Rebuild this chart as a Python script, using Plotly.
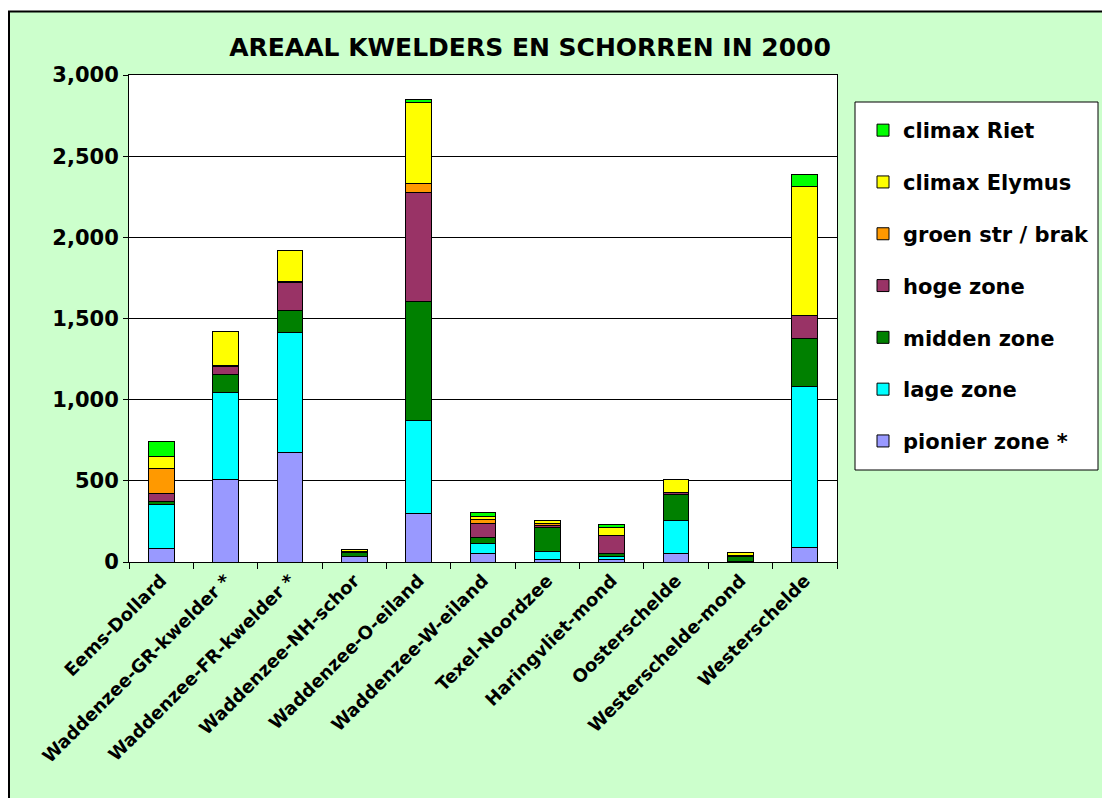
import plotly.graph_objects as go

categories = ["Eems-Dollard", "Waddenzee-GR-kwelder *", "Waddenzee-FR-kwelder *",
              "Waddenzee-NH-schor", "Waddenzee-O-eiland", "Waddenzee-W-eiland",
              "Texel-Noordzee", "Haringvliet-mond", "Oosterschelde",
              "Westerschelde-mond", "Westerschelde"]

pionier = [84, 511, 673, 31, 296, 53, 18, 14, 51, 3, 88]
lage    = [271, 532, 740, 5, 574, 62, 48, 21, 204, 2, 996]
midden  = [17, 115, 137, 20, 732, 33, 148, 18, 160, 27, 294]
hoge    = [47, 45, 169, 10, 672, 90, 12, 111, 16, 8, 142]
groen   = [154, 10, 10, 0, 57, 21, 12, 0, 0, 0, 0]
elymus  = [76, 210, 191, 10, 501, 24, 19, 50, 78, 20, 792]
riet    = [92, 0, 0, 0, 16, 23, 0, 20, 0, 0, 76]

series = [
    ("pionier zone *", pionier, "#9999FF"),
    ("lage zone", lage, "#00FFFF"),
    ("midden zone", midden, "#008000"),
    ("hoge zone", hoge, "#993366"),
    ("groen str / brak", groen, "#FF9900"),
    ("climax Elymus", elymus, "#FFFF00"),
    ("climax Riet", riet, "#00FF00"),
]

FONT = "DejaVu Sans, Arial, sans-serif"

fig = go.Figure()
n = len(series)
for i, (name, vals, col) in enumerate(series):
    fig.add_trace(go.Bar(
        x=categories, y=vals, name=name, legendgroup=str(i),
        legendrank=n - i,
        marker=dict(color=col, line=dict(color="black", width=1)),
    ))

# figure coordinates (the page adds an 8px body margin)
W, H = 1110, 798
L, T = 121, 67
PR, PB = 829, 554          # plot right / bottom in figure px
R, B = W - PR, H - PB
pw, ph = PR - L, PB - T

def px(fx):
    return (fx - L) / pw

def py(fy):
    return (PB - fy) / ph

fig.update_layout(
    width=W, height=H,
    barmode="stack", bargap=0.6,
    paper_bgcolor="#CCFFCC", plot_bgcolor="white",
    margin=dict(l=L, r=R, t=T, b=B),
    font=dict(family=FONT, color="black"),
    title=dict(text="<b>AREAAL KWELDERS EN SCHORREN IN 2000</b>",
               x=522 / W, xanchor="center", y=1 - 39 / H, yanchor="middle",
               font=dict(size=25, family=FONT, color="black")),
    legend=dict(
        x=px(855), xanchor="left",
        y=py(102), yanchor="top",
        traceorder="grouped", tracegroupgap=21.5,
        bgcolor="rgba(0,0,0,0)", borderwidth=0,
        font=dict(size=21, family=FONT, color="black", weight="bold"),
    ),
    showlegend=True,
)

fig.update_xaxes(
    tickangle=-45, tickfont=dict(size=18, family=FONT, weight="bold"),
    showline=True, linecolor="black", linewidth=1, mirror=True,
    ticks="outside", tickson="boundaries", ticklen=6, tickcolor="black",
    showgrid=False,
)
fig.update_yaxes(
    range=[0, 3000], dtick=500, tickformat=",",
    tickfont=dict(size=21, family=FONT, weight="bold"),
    showline=True, linecolor="black", linewidth=1, mirror=True,
    ticks="outside", ticklen=5, tickcolor="black",
    showgrid=True, gridcolor="black", gridwidth=1, zeroline=False,
)

# legend box
fig.add_shape(type="rect", xref="paper", yref="paper",
              x0=px(847), x1=px(1090), y0=py(462), y1=py(94),
              line=dict(color="black", width=1), fillcolor="white", layer="below")
# white strip above the chart area and chart border (top + left)
fig.add_shape(type="rect", xref="paper", yref="paper",
              x0=px(0), x1=px(W), y0=py(3), y1=py(0),
              line=dict(width=0), fillcolor="white", layer="below")
fig.add_shape(type="line", xref="paper", yref="paper",
              x0=px(0), x1=px(W), y0=py(3.5), y1=py(3.5),
              line=dict(color="black", width=2), layer="below")
fig.add_shape(type="line", xref="paper", yref="paper",
              x0=px(1), x1=px(1), y0=py(H), y1=py(3.5),
              line=dict(color="black", width=2), layer="below")

fig.write_html("out.html")
